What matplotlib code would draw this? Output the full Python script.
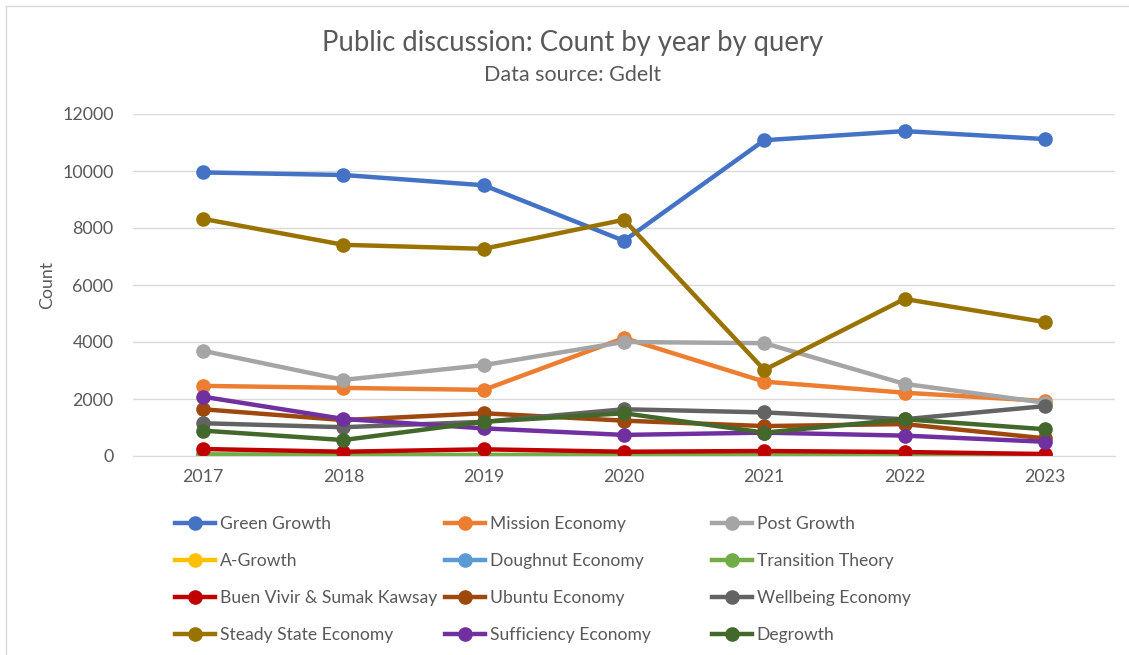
import matplotlib.pyplot as plt
from matplotlib.lines import Line2D
from matplotlib.patches import Rectangle

plt.rcParams['font.family'] = ['Lato', 'DejaVu Sans']

years = [2017, 2018, 2019, 2020, 2021, 2022, 2023]

green_growth = [9950, 9860, 9500, 7550, 11080, 11400, 11120]
mission_economy = [2460, 2390, 2320, 4140, 2610, 2220, 1930]
post_growth = [3690, 2670, 3190, 4000, 3960, 2530, 1870]
a_growth = [30, 20, 20, 20, 20, 20, 10]
doughnut_economy = [20, 10, 10, 10, 10, 10, 10]
transition_theory = [60, 40, 40, 40, 30, 30, 20]
buen_vivir = [245, 150, 235, 150, 175, 140, 70]
ubuntu_economy = [1640, 1260, 1500, 1240, 1050, 1120, 620]
wellbeing_economy = [1150, 1010, 1200, 1640, 1530, 1290, 1750]
steady_state = [8320, 7410, 7270, 8290, 3020, 5510, 4700]
sufficiency_economy = [2080, 1300, 970, 740, 820, 715, 500]
degrowth = [890, 560, 1200, 1500, 820, 1290, 940]

series = [
    ('Green Growth', green_growth, '#4472C4'),
    ('Mission Economy', mission_economy, '#ED7D31'),
    ('Post Growth', post_growth, '#A5A5A5'),
    ('A-Growth', a_growth, '#FFC000'),
    ('Doughnut Economy', doughnut_economy, '#5B9BD5'),
    ('Transition Theory', transition_theory, '#70AD47'),
    ('Buen Vivir & Sumak Kawsay', buen_vivir, '#C00000'),
    ('Ubuntu Economy', ubuntu_economy, '#9E480E'),
    ('Wellbeing Economy', wellbeing_economy, '#636363'),
    ('Steady State Economy', steady_state, '#997300'),
    ('Sufficiency Economy', sufficiency_economy, '#7030A0'),
    ('Degrowth', degrowth, '#43682B'),
]

txt = '#595959'
grid = '#D9D9D9'
lw, ms = 3.2, 9.5

fig = plt.figure(figsize=(11.29, 6.55), dpi=100)
ax = fig.add_axes([133 / 1129, 1 - 456 / 655, (1115 - 133) / 1129, (456 - 114) / 655])

handles = []
for name, vals, col in series:
    ln, = ax.plot(years, vals, color=col, lw=lw, marker='o', ms=ms,
                  label=name, solid_capstyle='round')
    handles.append(ln)

ax.set_xlim(2016.5, 2023.5)
ax.set_ylim(0, 12000)
ax.set_xticks(years)
ax.set_yticks(range(0, 12001, 2000))
ax.tick_params(length=0, labelsize=12.8, colors=txt)
ax.tick_params(axis='x', pad=9)
ax.tick_params(axis='y', pad=14)
ax.grid(axis='y', color=grid, lw=1)
ax.set_axisbelow(True)
for s in ['top', 'right', 'left']:
    ax.spines[s].set_visible(False)
ax.spines['bottom'].set_color(grid)
ax.set_ylabel('Count', fontsize=12.8, color=txt, labelpad=5)

fig.text(573 / 1129, 1 - 43 / 655, 'Public discussion: Count by year by query',
         ha='center', va='center', fontsize=19.8, color=txt)
fig.text(573 / 1129, 1 - 75 / 655, 'Data source: Gdelt',
         ha='center', va='center', fontsize=15.5, color=txt)

# legend laid out as three columns, filled row by row
col_x = [175 / 1129, 445 / 1129, 712 / 1129]
for c in range(3):
    hs = [Line2D([], [], color=h.get_color(), lw=lw, marker='o', ms=ms)
          for h in handles[c::3]]
    labels = [h.get_label() for h in handles[c::3]]
    fig.legend(hs, labels, loc='upper left', bbox_to_anchor=(col_x[c], 1 - 516 / 655),
               frameon=False, fontsize=12.6, labelcolor=txt, handlelength=2.3,
               handletextpad=0.25, labelspacing=1.2, borderpad=0, borderaxespad=0)

fig.patches.append(Rectangle((6 / 1129, -0.1), 1.2, 1 - 6 / 655 + 0.1,
                             transform=fig.transFigure, fill=False,
                             edgecolor='#D9D9D9', lw=1))

fig.savefig('out.png', dpi=100)
